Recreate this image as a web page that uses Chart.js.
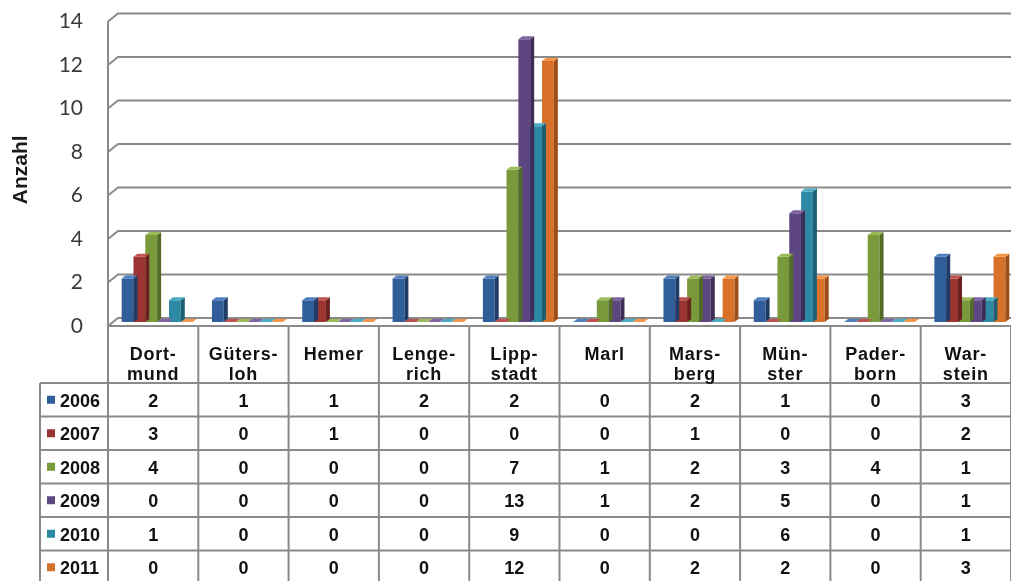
<!DOCTYPE html>
<html>
<head>
<meta charset="utf-8">
<script src="https://cdn.jsdelivr.net/npm/chart.js@4/dist/chart.umd.min.js"></script>
<style>
  html, body { margin: 0; padding: 0; background: #ffffff; }
  canvas { display: block; }
</style>
</head>
<body>
<canvas id="chart" width="1011" height="581"></canvas>
<script>
// Kliniken (hyphenated as printed in the table header)
const cities = [
  ['Dort-', 'mund'], ['Güters-', 'loh'], ['Hemer'], ['Lenge-', 'rich'], ['Lipp-', 'stadt'],
  ['Marl'], ['Mars-', 'berg'], ['Mün-', 'ster'], ['Pader-', 'born'], ['War-', 'stein']
];
const years = ['2006', '2007', '2008', '2009', '2010', '2011'];

// Anzahl je Jahr und Klinik
const v2006 = [2, 1, 1, 2, 2, 0, 2, 1, 0, 3];
const v2007 = [3, 0, 1, 0, 0, 0, 1, 0, 0, 2];
const v2008 = [4, 0, 0, 0, 7, 1, 2, 3, 4, 1];
const v2009 = [0, 0, 0, 0, 13, 1, 2, 5, 0, 1];
const v2010 = [1, 0, 0, 0, 9, 0, 0, 6, 0, 1];
const v2011 = [0, 0, 0, 0, 12, 0, 2, 2, 0, 3];

const yTicks = [0, 2, 4, 6, 8, 10, 12, 14];

// front / side / top shades per series
const palette = [
  { front: '#2f5e9a', side: '#1e3c66', top: '#4f7fbf' },
  { front: '#9c3431', side: '#6a2120', top: '#c0504d' },
  { front: '#789a3a', side: '#526b26', top: '#9bbb59' },
  { front: '#5d4681', side: '#3d2d57', top: '#8064a2' },
  { front: '#2e89a4', side: '#1d5e71', top: '#4bacc6' },
  { front: '#d8722b', side: '#9e4f19', top: '#f79646' }
];
const seriesValues = [v2006, v2007, v2008, v2009, v2010, v2011];

// perspective constants
const WALL_DX = 10, WALL_DY = 8;   // front edge -> back wall
const BACK_DY = 4;                 // bar plane -> back wall (up)
const FRONT_DY = 4;                // bar plane -> front edge (down)
const BAR_SHIFT = 4;               // bar plane shift to the right
const BAR_DX = 4, BAR_DY = 3;      // bar depth
const LINE = '#8a8a8a';

const TABLE_FONT = 'bold 18px "Liberation Sans", Arial, sans-serif';
const HEADER_H = 57;
const ROW_H = 33.5;
const LEGEND_LEFT = 40;

const depth3d = {
  id: 'depth3d',
  beforeDatasetsDraw(chart) {
    const { ctx, chartArea: a, scales: { y } } = chart;
    ctx.save();
    ctx.strokeStyle = LINE;
    ctx.lineWidth = 2;
    const frontX = a.left, backX = a.left + WALL_DX;
    // left wall edge
    ctx.beginPath();
    ctx.moveTo(frontX, y.getPixelForValue(yTicks[yTicks.length - 1]) + FRONT_DY);
    ctx.lineTo(frontX, y.getPixelForValue(0) + FRONT_DY + 1);
    ctx.stroke();
    // back wall grid lines with their short side diagonals
    yTicks.forEach(v => {
      const yb = y.getPixelForValue(v) - BACK_DY;
      ctx.beginPath();
      ctx.moveTo(frontX, yb + WALL_DY);
      ctx.lineTo(backX, yb);
      ctx.lineTo(chart.width, yb);
      ctx.stroke();
    });
    ctx.restore();
    ctx.save();
    ctx.translate(BAR_SHIFT, 0);
  },
  afterDatasetDraw(chart, args) {
    const { ctx } = chart;
    const col = palette[args.index];
    args.meta.data.forEach(el => {
      const { x, y, base, width } = el.getProps(['x', 'y', 'base', 'width'], true);
      const left = x - width / 2, right = x + width / 2;
      // side face
      if (base - y > 0.5) {
        ctx.fillStyle = col.side;
        ctx.beginPath();
        ctx.moveTo(right, y);
        ctx.lineTo(right + BAR_DX, y - BAR_DY);
        ctx.lineTo(right + BAR_DX, base - BAR_DY);
        ctx.lineTo(right, base);
        ctx.closePath();
        ctx.fill();
      }
      // top face
      ctx.fillStyle = col.top;
      ctx.beginPath();
      ctx.moveTo(left, y);
      ctx.lineTo(left + BAR_DX, y - BAR_DY);
      ctx.lineTo(right + BAR_DX, y - BAR_DY);
      ctx.lineTo(right, y);
      ctx.closePath();
      ctx.fill();
    });
  },
  afterDatasetsDraw(chart) {
    const { ctx, chartArea: a, scales: { x, y } } = chart;
    ctx.restore();

    const colW = (a.right - a.left) / cities.length;
    const top = y.getPixelForValue(0) + FRONT_DY;
    const rowsTop = top + HEADER_H;
    const bottom = chart.height + 5;

    ctx.save();
    ctx.strokeStyle = LINE;
    ctx.lineWidth = 2;
    // table frame
    ctx.beginPath();
    ctx.moveTo(a.left, top);
    ctx.lineTo(chart.width, top);
    for (let r = 0; r < years.length; r++) {
      const ry = rowsTop + r * ROW_H;
      ctx.moveTo(LEGEND_LEFT, ry);
      ctx.lineTo(chart.width, ry);
    }
    ctx.moveTo(LEGEND_LEFT, rowsTop);
    ctx.lineTo(LEGEND_LEFT, bottom);
    for (let i = 0; i <= cities.length; i++) {
      const bx = x.getPixelForTick(Math.min(i, cities.length - 1)) + (i === cities.length ? colW / 2 : -colW / 2);
      ctx.moveTo(bx, top);
      ctx.lineTo(bx, bottom);
    }
    ctx.stroke();

    ctx.fillStyle = '#111111';
    ctx.font = TABLE_FONT;
    ctx.textAlign = 'center';
    ctx.textBaseline = 'alphabetic';
    try { ctx.letterSpacing = '0.8px'; } catch (e) {}
    // header
    cities.forEach((lines, i) => {
      const cx = x.getPixelForTick(i);
      lines.forEach((t, k) => ctx.fillText(t, cx, top + 34 + k * 20));
    });
    try { ctx.letterSpacing = '0px'; } catch (e) {}
    // rows
    seriesValues.forEach((vals, r) => {
      const base = rowsTop + r * ROW_H + ROW_H / 2 + 7;
      vals.forEach((v, i) => ctx.fillText(String(v), x.getPixelForTick(i), base));
      ctx.fillStyle = palette[r].front;
      ctx.fillRect(LEGEND_LEFT + 7, base - 11, 8, 8);
      ctx.fillStyle = '#111111';
      ctx.textAlign = 'left';
      ctx.fillText(years[r], LEGEND_LEFT + 20, base);
      ctx.textAlign = 'center';
    });
    ctx.restore();
  }
};

new Chart(document.getElementById('chart'), {
  type: 'bar',
  data: {
    labels: cities,
    datasets: years.map((yr, r) => ({
      label: yr,
      data: seriesValues[r],
      backgroundColor: palette[r].front,
      borderWidth: 0,
      clip: false
    }))
  },
  options: {
    responsive: false,
    animation: false,
    devicePixelRatio: 1,
    layout: { padding: { top: 17.5, bottom: 259, left: 0, right: 0 } },
    datasets: { bar: { categoryPercentage: 0.786, barPercentage: 1 } },
    plugins: { legend: { display: false }, tooltip: { enabled: false } },
    scales: {
      x: { display: false, offset: true },
      y: {
        min: 0,
        max: 14,
        afterBuildTicks(scale) { scale.ticks = yTicks.map(v => ({ value: v })); },
        afterFit(scale) {
          scale.width = 108;
          scale.paddingTop = 0;
          scale.paddingBottom = 0;
        },
        grid: { display: false, drawTicks: false },
        border: { display: false },
        ticks: {
          padding: 25,
          labelOffset: FRONT_DY,
          color: '#3a3a3a',
          font: { family: 'Lato, "Open Sans", sans-serif', size: 21 }
        },
        title: {
          display: true,
          text: 'Anzahl',
          color: '#1a1a1a',
          padding: { top: 9, bottom: 0 },
          font: { family: '"Liberation Sans", Arial, sans-serif', size: 21, weight: 'bold' }
        }
      }
    }
  },
  plugins: [depth3d]
});
</script>
</body>
</html>
